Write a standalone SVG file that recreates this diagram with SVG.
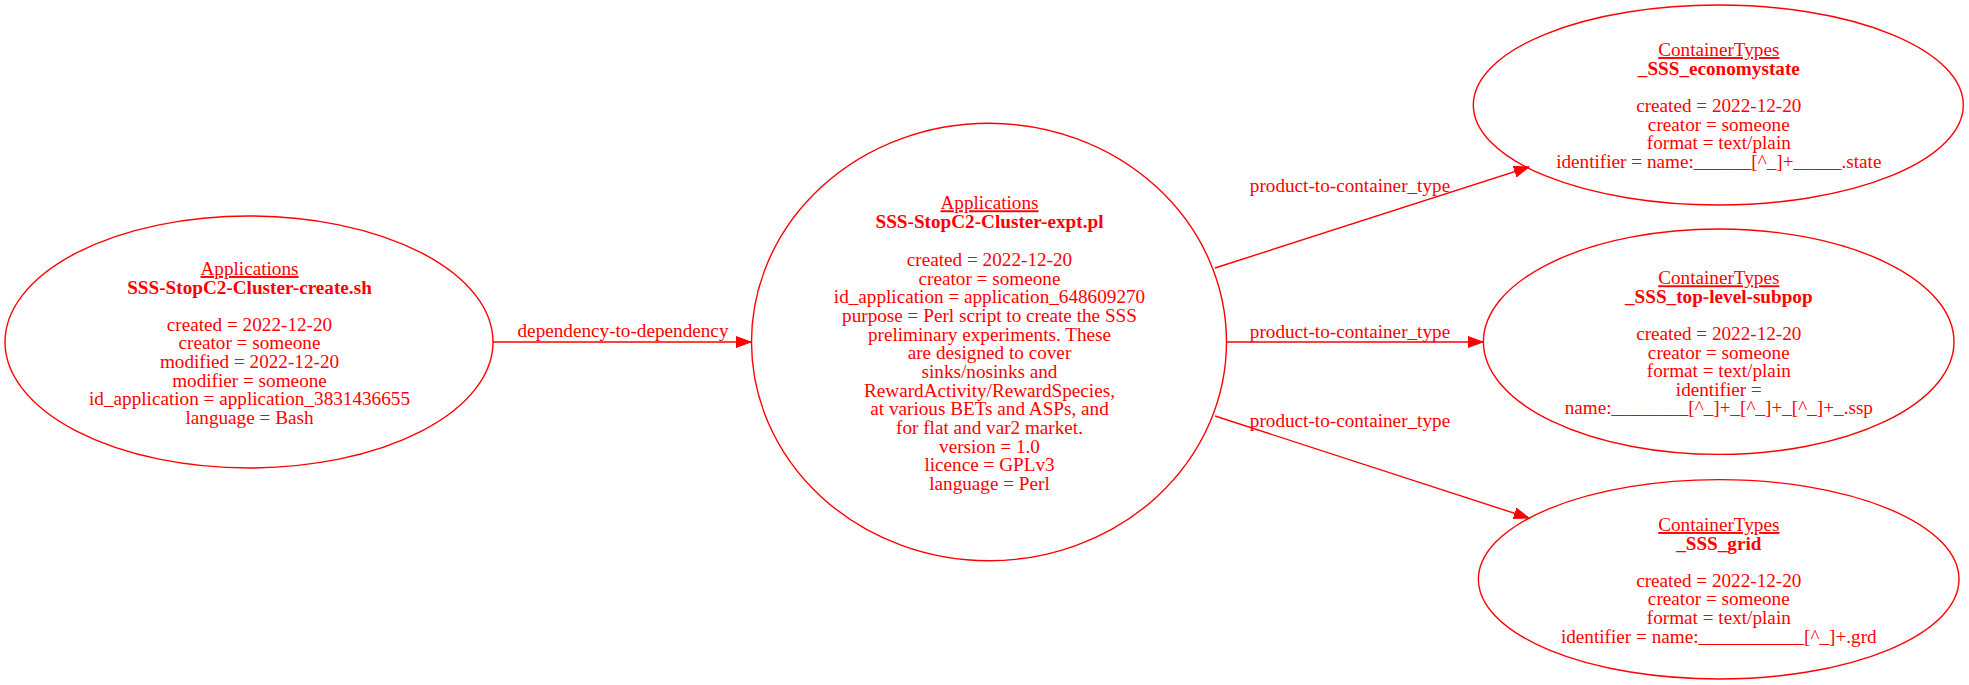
<svg xmlns="http://www.w3.org/2000/svg" width="1969" height="685" viewBox="0 0 1969 685">
<style>
text{font-family:"Liberation Serif","Times New Roman",serif;font-size:19.2px;fill:#ff0000;text-anchor:middle}
.u{text-decoration:underline}
.b{font-weight:bold}
ellipse{fill:none;stroke:#ff0000;stroke-width:1.4}
.e{stroke:#ff0000;stroke-width:1.4;fill:none}
</style>
<defs>
<marker id="ah" markerUnits="userSpaceOnUse" markerWidth="16" markerHeight="12" refX="15" refY="6" orient="auto" viewBox="0 0 16 12">
<path d="M0,0.5 L15,6 L0,11.5 z" fill="#ff0000" stroke="#ff0000" stroke-width="1"/>
</marker>
</defs>
<rect width="1969" height="685" fill="#ffffff"/>
<g id="connectors">
<g id="e1"><line class="e" x1="493" y1="342" x2="751" y2="342" marker-end="url(#ah)"/><text x="623" y="337">dependency-to-dependency</text></g>
<g id="e2"><line class="e" x1="1215" y1="268" x2="1529" y2="167" marker-end="url(#ah)"/><text x="1350" y="192">product-to-container_type</text></g>
<g id="e3"><line class="e" x1="1227" y1="342" x2="1483" y2="342" marker-end="url(#ah)"/><text x="1350" y="338">product-to-container_type</text></g>
<g id="e4"><line class="e" x1="1215" y1="416" x2="1529" y2="518" marker-end="url(#ah)"/><text x="1350" y="427">product-to-container_type</text></g>
</g>
<g id="n1">
<ellipse cx="249" cy="342" rx="244" ry="126"/>
<text x="249.5" y="275" class="u">Applications</text>
<text x="249.5" y="293.6" class="b">SSS-StopC2-Cluster-create.sh</text>
<text x="249.5" y="330.7">created = 2022-12-20</text>
<text x="249.5" y="349.3">creator = someone</text>
<text x="249.5" y="368">modified = 2022-12-20</text>
<text x="249.5" y="386.6">modifier = someone</text>
<text x="249.5" y="405.2">id_application = application_3831436655</text>
<text x="249.5" y="423.8">language = Bash</text>
</g>
<g id="n2">
<ellipse cx="989" cy="342" rx="237.5" ry="218.7"/>
<text x="989.5" y="209.3" class="u">Applications</text>
<text x="989.5" y="228" class="b">SSS-StopC2-Cluster-expt.pl</text>
<text x="989.5" y="266">created = 2022-12-20</text>
<text x="989.5" y="284.7">creator = someone</text>
<text x="989.5" y="303.3">id_application = application_648609270</text>
<text x="989.5" y="322">purpose = Perl script to create the SSS</text>
<text x="989.5" y="340.7">preliminary experiments. These</text>
<text x="989.5" y="359.3">are designed to cover</text>
<text x="989.5" y="378">sinks/nosinks and</text>
<text x="989.5" y="396.7">RewardActivity/RewardSpecies,</text>
<text x="989.5" y="415.3">at various BETs and ASPs, and</text>
<text x="989.5" y="434">for flat and var2 market.</text>
<text x="989.5" y="452.7">version = 1.0</text>
<text x="989.5" y="471.3">licence = GPLv3</text>
<text x="989.5" y="490">language = Perl</text>
</g>
<g id="n3">
<ellipse cx="1718.3" cy="105" rx="245" ry="100"/>
<text x="1718.8" y="56" class="u">ContainerTypes</text>
<text x="1718.8" y="75" class="b">_SSS_economystate</text>
<text x="1718.8" y="111.7">created = 2022-12-20</text>
<text x="1718.8" y="130.5">creator = someone</text>
<text x="1718.8" y="149.1">format = text/plain</text>
<text x="1718.8" y="167.7">identifier = name:______[^_]+_____.state</text>
</g>
<g id="n4">
<ellipse cx="1718.7" cy="341.7" rx="235.3" ry="112.7"/>
<text x="1718.8" y="284.3" class="u">ContainerTypes</text>
<text x="1718.8" y="303.3" class="b">_SSS_top-level-subpop</text>
<text x="1718.8" y="340">created = 2022-12-20</text>
<text x="1718.8" y="358.6">creator = someone</text>
<text x="1718.8" y="377.2">format = text/plain</text>
<text x="1718.8" y="395.8">identifier =</text>
<text x="1718.8" y="414.4">name:________[^_]+_[^_]+_[^_]+_.ssp</text>
</g>
<g id="n5">
<ellipse cx="1718.7" cy="579.3" rx="240.3" ry="99.7"/>
<text x="1718.8" y="531" class="u">ContainerTypes</text>
<text x="1718.8" y="550" class="b">_SSS_grid</text>
<text x="1718.8" y="586.7">created = 2022-12-20</text>
<text x="1718.8" y="605.3">creator = someone</text>
<text x="1718.8" y="623.9">format = text/plain</text>
<text x="1718.8" y="642.5">identifier = name:___________[^_]+.grd</text>
</g>
</svg>
